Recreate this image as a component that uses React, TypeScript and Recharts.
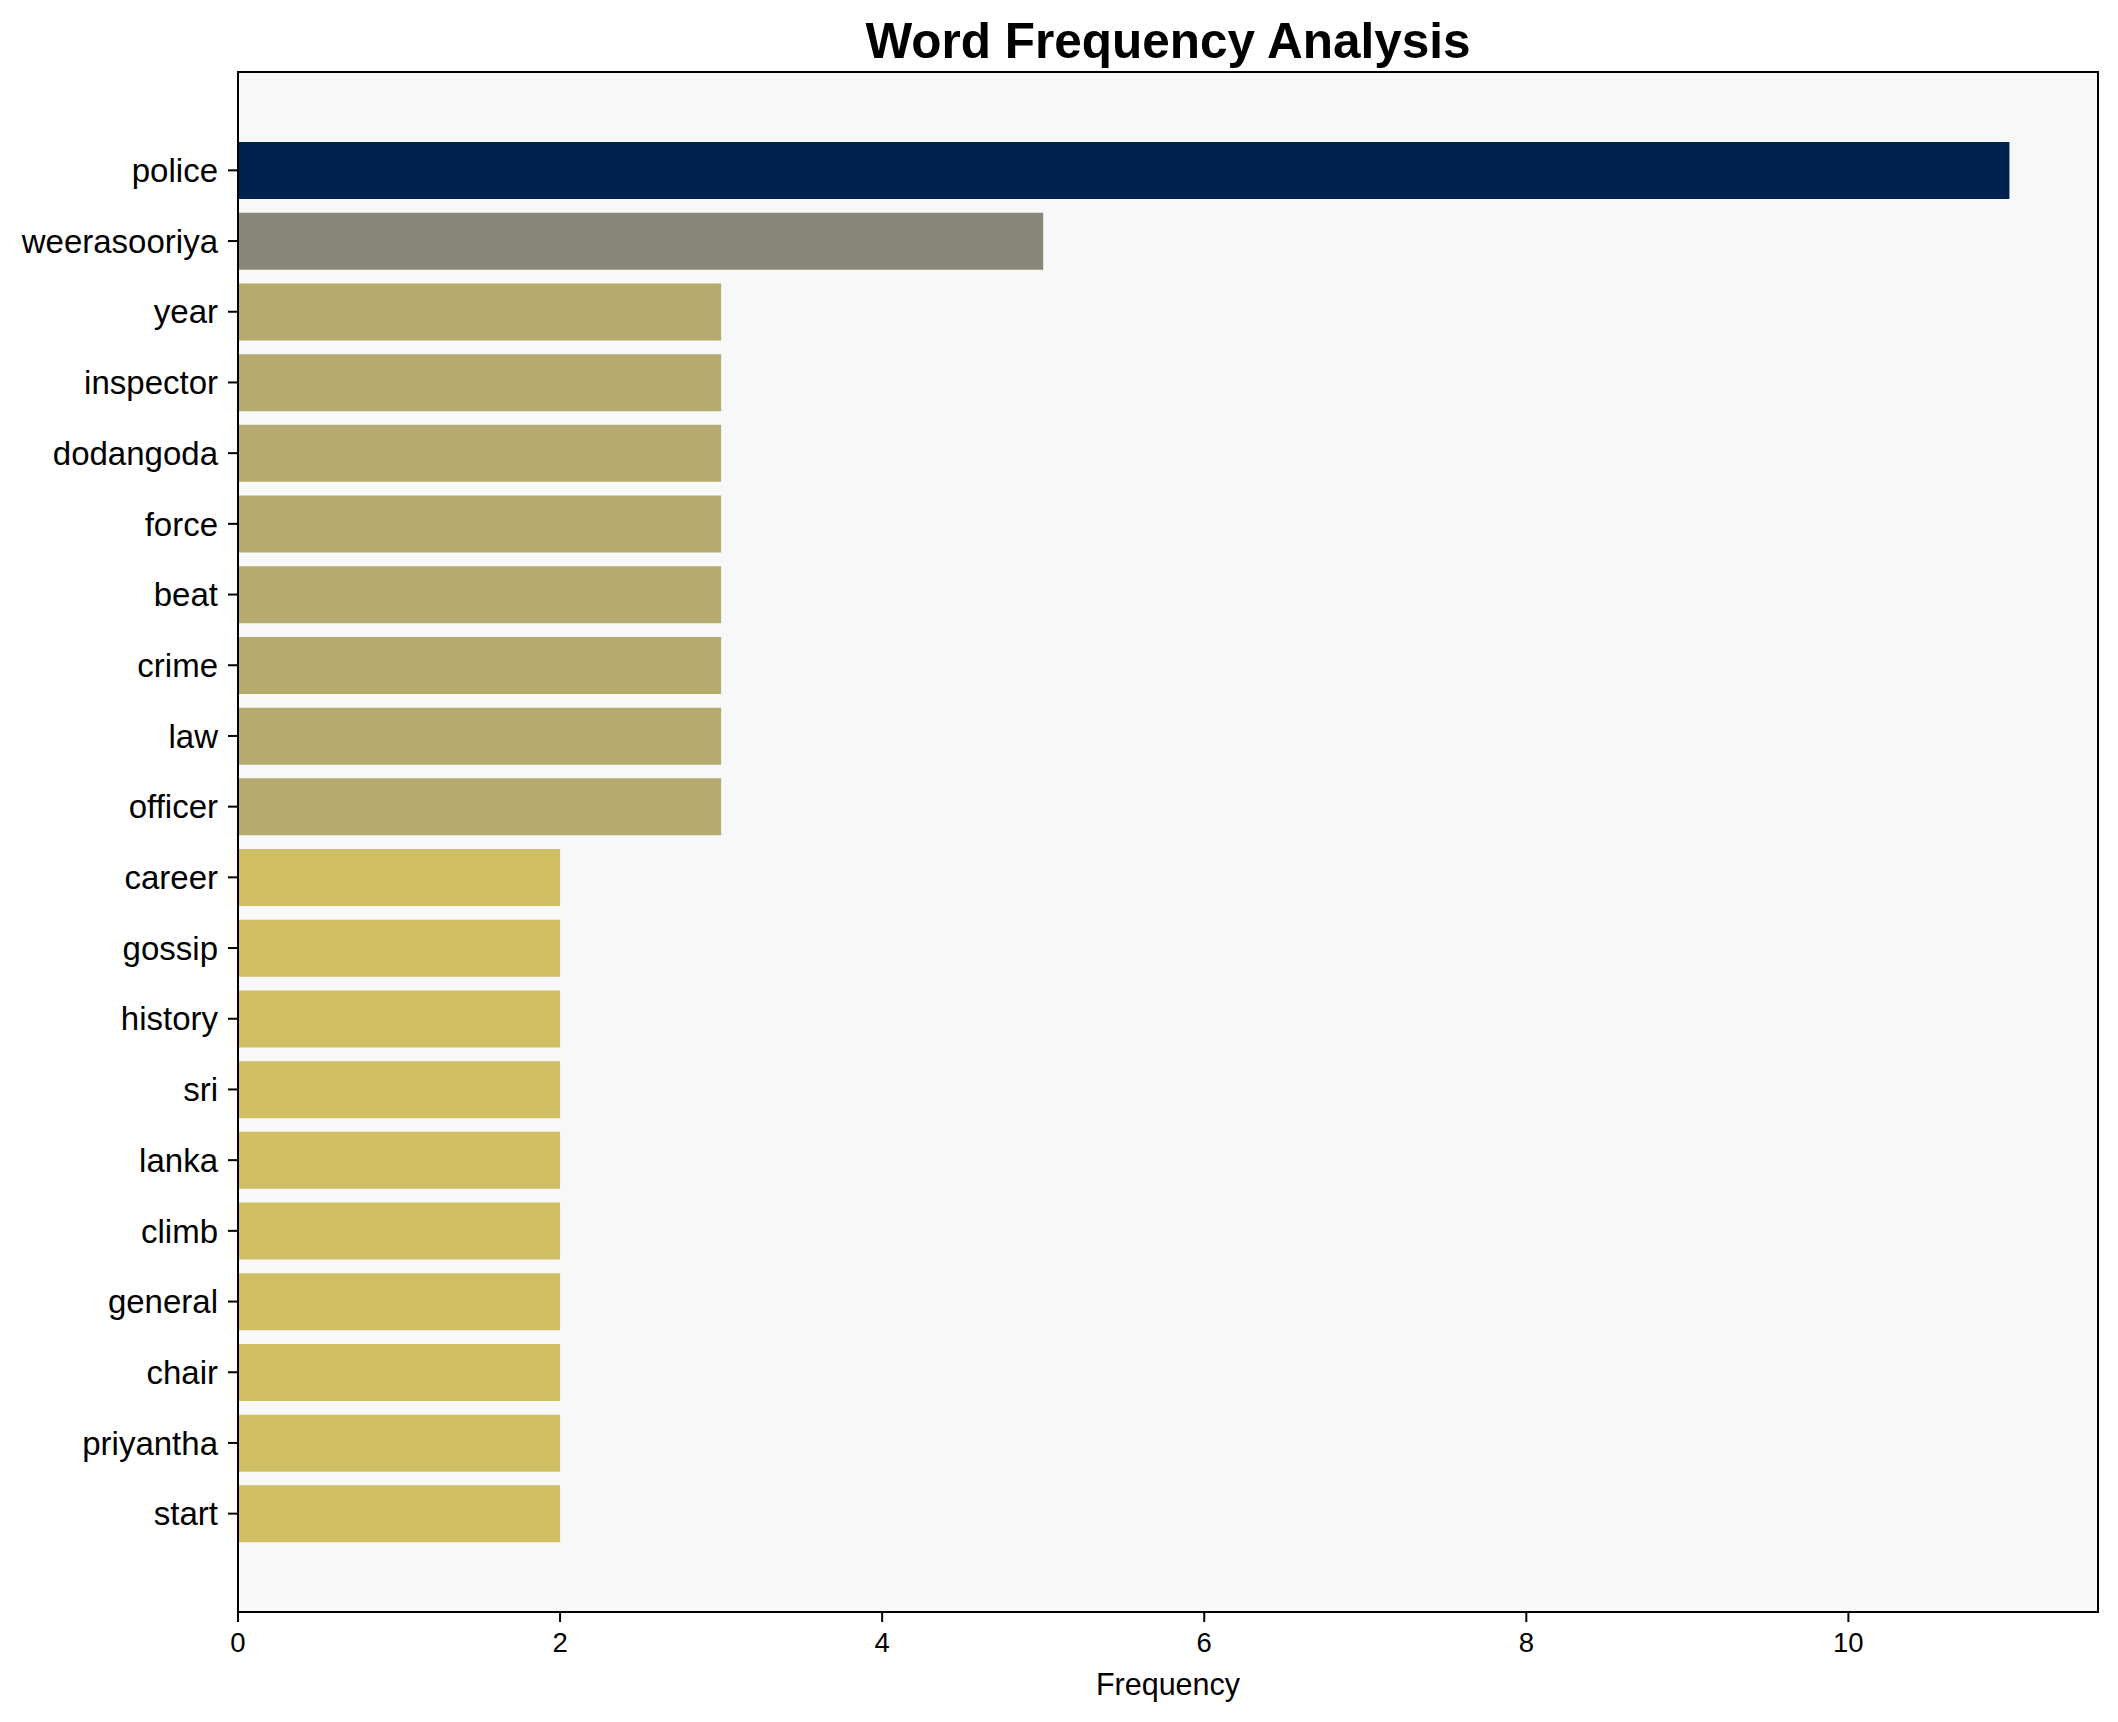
import React from 'react';
import { BarChart, Bar, XAxis, YAxis, CartesianGrid, Cell } from 'recharts';

const words = ['police', 'weerasooriya', 'year', 'inspector', 'dodangoda', 'force', 'beat', 'crime', 'law', 'officer', 'career', 'gossip', 'history', 'sri', 'lanka', 'climb', 'general', 'chair', 'priyantha', 'start'];
const counts = [11, 5, 3, 3, 3, 3, 3, 3, 3, 3, 2, 2, 2, 2, 2, 2, 2, 2, 2, 2];
const xTicks = [0, 2, 4, 6, 8, 10];

const colorFor = (v: number) => {
  if (v >= 11) return '#00224e';
  if (v >= 5) return '#898777';
  if (v >= 3) return '#b6aa6f';
  return '#cfbe63';
};

const data = words.map((w, i) => ({ word: w, count: counts[i] }));

const FONT = '"Liberation Sans", Arial, Helvetica, sans-serif';

export default function App() {
  const W = 2118;
  const H = 1722;
  const left = 238;
  const top = 72;
  const right = 2098;
  const bottom = 1612;
  return (
    <div style={{ position: 'absolute', left: 0, top: 0, width: W, height: H, background: '#fff', fontFamily: FONT }}>
      <div
        style={{
          position: 'absolute',
          left: left,
          width: right - left,
          top: 12,
          textAlign: 'center',
          fontFamily: FONT,
          fontWeight: 'bold',
          fontSize: 49.5,
          lineHeight: '57px',
          color: '#000',
        }}
      >
        Word Frequency Analysis
      </div>
      <BarChart
        width={W}
        height={H}
        data={data}
        layout="vertical"
        margin={{ top: top, right: W - right, left: 0, bottom: 0 }}
        barCategoryGap="10%"
        style={{ position: 'absolute', left: 0, top: 0 }}
      >
        <CartesianGrid fill="#f8f8f8" horizontal={false} vertical={false} />
        <XAxis
          type="number"
          dataKey="count"
          domain={[0, 11.55]}
          ticks={xTicks}
          allowDataOverflow
          height={H - bottom}
          axisLine={false}
          tickLine={{ stroke: '#000', strokeWidth: 2 }}
          tickSize={10}
          tickMargin={10}
          tick={{ fill: '#000', fontSize: 27.5, fontFamily: FONT }}
          label={{ value: 'Frequency', position: 'insideBottom', offset: 27, fill: '#000', fontSize: 30.5, fontFamily: FONT }}
        />
        <YAxis
          type="category"
          dataKey="word"
          width={left}
          padding={{ top: 63, bottom: 63 }}
          axisLine={false}
          tickLine={{ stroke: '#000', strokeWidth: 2 }}
          tickSize={10}
          tickMargin={10}
          interval={0}
          tick={{ fill: '#000', fontSize: 33, fontFamily: FONT }}
        />
        <Bar dataKey="count" isAnimationActive={false}>
          {data.map((d, i) => (
            <Cell key={i} fill={colorFor(d.count)} />
          ))}
        </Bar>
      </BarChart>
      <div
        style={{
          position: 'absolute',
          left: left - 1,
          top: top - 1,
          width: right - left + 2,
          height: bottom - top + 2,
          border: '2px solid #000',
          boxSizing: 'border-box',
          pointerEvents: 'none',
        }}
      />
    </div>
  );
}
